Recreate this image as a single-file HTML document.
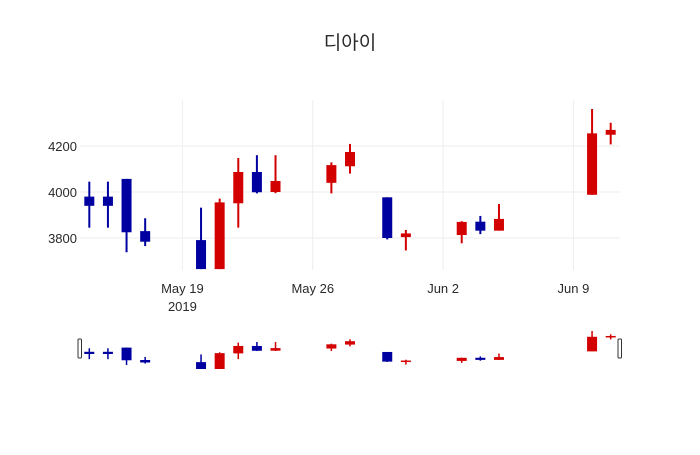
<!DOCTYPE html>
<html><head><meta charset="utf-8"><style>
body{margin:0;background:#fff;}
svg text{font-family:"Liberation Sans","Noto Sans CJK KR",sans-serif;fill:#2a2a2a;}
</style></head><body>
<svg id="chart" width="700" height="450" xmlns="http://www.w3.org/2000/svg">
<text x="350" y="49" text-anchor="middle" font-size="19">디아이</text>
<g id="grid"></g><g id="main"></g><g id="axes"></g><g id="slider"></g>
</svg>
<script>
const dates=["2019-05-14","2019-05-15","2019-05-16","2019-05-17","2019-05-20","2019-05-21","2019-05-22","2019-05-23","2019-05-24","2019-05-27","2019-05-28","2019-05-30","2019-05-31","2019-06-03","2019-06-04","2019-06-05","2019-06-10","2019-06-11"];
const openV=[3980,3980,4057,3830,3791,3665,3951,4087,4000,4040,4112,3977,3804,3813,3871,3832,3988,4249];
const highV=[4045,4045,4057,3886,3932,3971,4148,4160,4160,4129,4209,3977,3835,3873,3896,3948,4361,4301];
const lowV=[3845,3845,3738,3765,3665,3665,3845,3994,3995,3994,4080,3794,3746,3777,3817,3832,3988,4207];
const closeV=[3940,3940,3825,3784,3665,3955,4087,3999,4048,4117,4174,3800,3820,3870,3832,3883,4255,4270];
const yTicks=[3800,4000,4200];
const xTicks=["2019-05-19","2019-05-26","2019-06-02","2019-06-09"];
const xTickLabels=["May 19","May 26","Jun 2","Jun 9"];
const NS="http://www.w3.org/2000/svg";
const L=80,R=620,T=100,B=270;
const t0=Date.parse("2019-05-13T12:00:00Z"),t1=Date.parse("2019-06-11T12:00:00Z");
const x=d=>L+(Date.parse(d+"T00:00:00Z")-t0)/(t1-t0)*(R-L);
const yMin=3661,yMax=4400;
const y=v=>B-(v-yMin)/(yMax-yMin)*(B-T);
const sMin=Math.min(...lowV),sMax=Math.max(...highV),sT=331,sB=369;
const ys=v=>sB-(v-sMin)/(sMax-sMin)*(sB-sT);
function mk(tag,attrs,parent){const e=document.createElementNS(NS,tag);for(const k in attrs)e.setAttribute(k,attrs[k]);parent.appendChild(e);return e;}
const grid=document.getElementById('grid'),main=document.getElementById('main'),axes=document.getElementById('axes'),slider=document.getElementById('slider');
mk('clipPath',{id:'clp'},main).appendChild(document.createElementNS(NS,'rect'));
const cr=main.querySelector('clipPath rect');cr.setAttribute('x',L);cr.setAttribute('y',T);cr.setAttribute('width',R-L);cr.setAttribute('height',B-T);
yTicks.forEach(v=>{
 const g=mk('line',{x1:L,x2:R,y1:y(v),y2:y(v),stroke:'#eee'},grid);
 
 
 const t=mk('text',{x:L-3,y:y(v)+5,'text-anchor':'end','font-size':'13'},axes);
 t.textContent=v;
 
 
});
xTicks.forEach((d,i)=>{
 const g=mk('line',{x1:x(d),x2:x(d),y1:T,y2:B,stroke:'#eee'},grid);
 
 
 const t=mk('text',{x:x(d),y:293,'text-anchor':'middle','font-size':'13'},axes);
 t.textContent=xTickLabels[i];
 
 
});
const yr=mk('text',{x:x(xTicks[0]),y:311,'text-anchor':'middle','font-size':'13'},axes);
yr.textContent='2019';


const mg=mk('g',{'clip-path':'url(#clp)'},main);
function candle(i,yf,parent,bw,lw,name){
 const up=closeV[i]>=openV[i];const c=up?'#d30000':'#0000a0';
 const cx=x(dates[i]);const g=mk('g',{},parent);
 
 
 mk('line',{x1:cx,x2:cx,y1:yf(highV[i]),y2:yf(lowV[i]),stroke:c,'stroke-width':lw},g);
 const top=yf(Math.max(openV[i],closeV[i])),bot=yf(Math.min(openV[i],closeV[i]));
 mk('rect',{x:cx-bw/2,y:top,width:bw,height:Math.max(bot-top,1.5),fill:c},g);
}
dates.forEach((d,i)=>{candle(i,y,mg,10,2,'candle');candle(i,ys,slider,10,1.5,'rangeslider-candle');});
[[78],[618]].forEach(([hx])=>{
 const h=mk('rect',{x:hx,y:339,width:3.5,height:19,rx:1,fill:'#fff',stroke:'#333','stroke-width':1},slider);
 
 
});
</script>
</body></html>
